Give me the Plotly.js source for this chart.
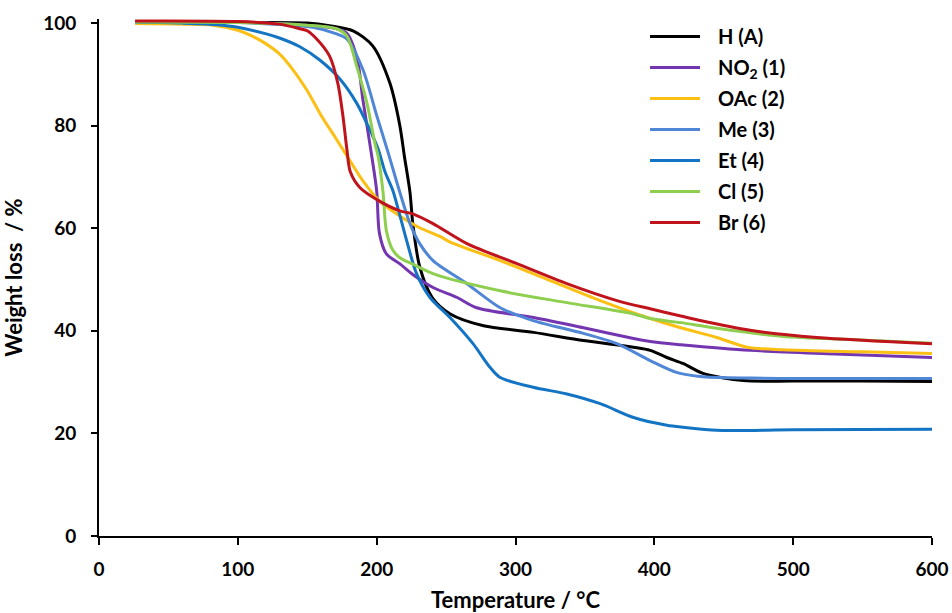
<!DOCTYPE html>
<html>
<head>
<meta charset="utf-8">
<script src="https://cdn.plot.ly/plotly-3.0.1.min.js"></script>
<style>html,body{margin:0;padding:0;background:#fff;}#chart{width:952px;height:613px;}</style>
</head>
<body>
<div id="chart"></div>
<script>
// Series names
const seriesNames = ["H (A)", "NO<sub>2</sub> (1)", "OAc (2)", "Me (3)", "Et (4)", "Cl (5)", "Br (6)"];

// H (A)
const tempH = [26, 100, 150, 166, 183, 197, 209.5, 216.7, 220, 224, 226, 231, 240, 253, 277, 313, 349, 385, 397, 409, 421, 435, 464, 500, 550, 600];
const wH    = [100.2, 100.1, 100, 99.5, 98.5, 95.6, 88.3, 80, 74, 67, 61, 52.5, 46.5, 43.3, 41, 39.7, 38.1, 36.8, 36.2, 34.8, 33.6, 31.7, 30.3, 30.2, 30.2, 30.1];

// NO2 (1)
const tempNO2 = [26, 100, 154, 170, 178.5, 186, 190, 195, 200, 202, 207, 217, 226, 241, 258, 272, 313, 349, 385, 397, 419, 469, 530, 600];
const wNO2    = [100.3, 100.2, 99.5, 99, 98, 93, 85.2, 76.6, 67.3, 59, 55, 53, 51, 48.4, 46.5, 44.5, 42.6, 40.6, 38.5, 37.9, 37.3, 36.2, 35.5, 34.8];

// OAc (2)
const tempOAc = [26, 60, 82, 100, 110, 120, 130, 140, 150, 160, 170, 180, 190, 202, 214.5, 231, 245.6, 253, 289, 325, 361, 395, 419, 445, 467, 493, 550, 600];
const wOAc    = [99.9, 99.8, 99.6, 98.6, 97.5, 96, 94, 90.8, 86.8, 82, 77.8, 73.5, 69.3, 65.3, 62.8, 60.1, 58.4, 57.3, 53.7, 49.8, 45.9, 42.6, 40.6, 38.7, 36.8, 36.3, 35.9, 35.6];

// Me (3)
const tempMe = [26, 100, 154, 170, 178.5, 190, 200, 208, 216.7, 224, 231, 240.6, 265, 289, 312.6, 349, 373, 397, 416, 433, 470, 600];
const wMe    = [100.2, 100.1, 99.2, 98, 96.9, 91, 82, 75, 67, 60.9, 57, 53.7, 49.2, 44.5, 42, 39.5, 37.5, 34.2, 31.9, 31.1, 30.8, 30.7];

// Et (4)
const tempEt = [26, 60, 85, 100, 120.5, 130, 144.7, 159, 173.5, 185.6, 193.7, 201, 206, 211.7, 216.7, 221.7, 228.8, 238.4, 252.8, 269.4, 281.6, 289, 312.6, 337, 361, 385, 409, 421, 445, 500, 600];
const wEt    = [100.2, 100, 99.7, 99.2, 97.9, 97.1, 95.4, 92.8, 89.1, 84.4, 80, 75.5, 71, 67.3, 62.5, 57.5, 51.1, 46.5, 42.6, 37.5, 32.9, 30.9, 29, 27.7, 25.8, 23.1, 21.6, 21.2, 20.6, 20.7, 20.8];

// Cl (5)
const tempCl = [26, 100, 150, 171, 178.5, 185.6, 193, 198.7, 201, 204.5, 207, 211.7, 217, 226, 241, 289, 337, 385, 397, 419, 445, 493, 541, 600];
const wCl    = [100.2, 100.1, 99.6, 98.9, 97.5, 91.6, 84.4, 76.6, 74.1, 67.3, 59.5, 55.7, 54.2, 53, 51.1, 47.8, 45.5, 43.3, 42.4, 41.6, 40.5, 38.9, 38.3, 37.6];

// Br (6)
const tempBr = [26, 100, 130, 144.7, 150, 156.8, 166, 172, 175.7, 178.5, 181, 188, 202, 216.7, 226, 240.6, 265, 301, 337, 373, 397, 419, 433, 469, 517, 600];
const wBr    = [100.4, 100.3, 99.8, 98.9, 98.5, 96.9, 93.6, 88.3, 81.9, 75.5, 71, 67.9, 65.3, 63.4, 62.8, 60.9, 57, 53.1, 49.2, 45.9, 44.3, 42.9, 42, 40.1, 38.7, 37.5];

// Axis ticks
const xTicks = [0, 100, 200, 300, 400, 500, 600];
const yTicks = [0, 20, 40, 60, 80, 100];

const colors = ["#000000", "#7335b0", "#fcbf14", "#4f86d6", "#1474c4", "#8fcf4f", "#c0141c"];
const xs = [tempH, tempNO2, tempOAc, tempMe, tempEt, tempCl, tempBr];
const ys = [wH, wNO2, wOAc, wMe, wEt, wCl, wBr];

const FONT = "Lato, 'Open Sans', sans-serif";

const traces = seriesNames.map((n, i) => ({
  x: xs[i], y: ys[i], name: n, type: "scatter", mode: "lines",
  legendgroup: "g" + i,
  line: {color: colors[i], width: 3, shape: "spline", smoothing: 0.8}
}));

const layout = {
  width: 952, height: 613,
  margin: {l: 99, r: 20, t: 19, b: 77, pad: 0},
  paper_bgcolor: "#ffffff", plot_bgcolor: "#ffffff",
  font: {family: FONT, color: "#000", size: 19, weight: "bold"},
  showlegend: true,
  legend: {
    x: 0.6555, y: 1.004, xanchor: "left", yanchor: "top",
    font: {family: FONT, size: 20, color: "#000", weight: "bold"},
    bgcolor: "rgba(0,0,0,0)", borderwidth: 0,
    tracegroupgap: 2, itemwidth: 63, traceorder: "grouped"
  },
  xaxis: {
    range: [0, 600], tickvals: xTicks, ticktext: xTicks.map(String),
    showgrid: false, zeroline: false, showline: true, linecolor: "#000", linewidth: 2,
    ticks: "outside", ticklen: 7, tickwidth: 2, tickcolor: "#000",
    tickfont: {family: FONT, size: 19, weight: "bold"},
    ticklabelstandoff: 8,
    title: {text: "Temperature / °C", font: {family: FONT, size: 22, weight: "bold"}, standoff: 20},
    automargin: false
  },
  yaxis: {
    range: [0, 100.8], tickvals: yTicks, ticktext: yTicks.map(String),
    showgrid: false, zeroline: false, showline: true, linecolor: "#000", linewidth: 2,
    ticks: "outside", ticklen: 6, tickwidth: 2, tickcolor: "#000",
    tickfont: {family: FONT, size: 19, weight: "bold"},
    ticklabelstandoff: 11,
    title: {text: "Weight loss  / %", font: {family: FONT, size: 22, weight: "bold"}, standoff: 14},
    automargin: false
  }
};

Plotly.newPlot("chart", traces, layout, {staticPlot: true, displayModeBar: false}).then(() => {
  // lengthen legend line samples to match the reference
  document.querySelectorAll("#chart .legend .legendlines path").forEach(p => p.setAttribute("d", "M5,0h50"));
});
</script>
</body>
</html>
